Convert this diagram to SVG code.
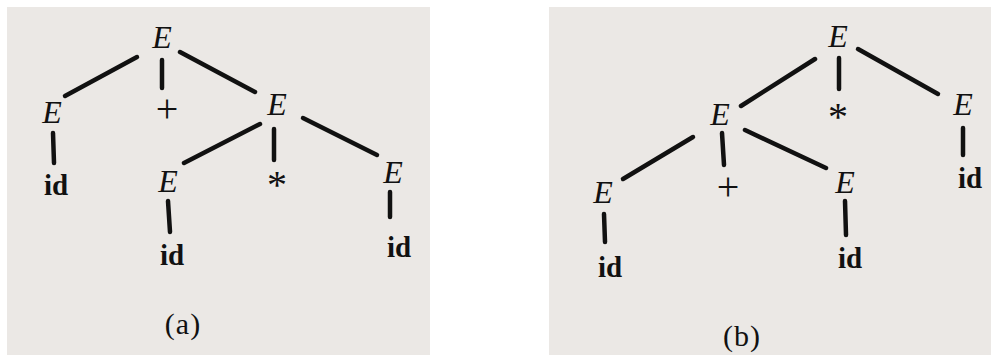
<svg xmlns="http://www.w3.org/2000/svg" width="991" height="356" viewBox="0 0 991 356">
<style>
.bg{fill:#ebe8e5}
.e{font-family:"Liberation Serif",serif;font-style:italic;font-size:32px;fill:#111;text-anchor:middle}
.id{font-family:"Liberation Serif",serif;font-weight:bold;font-size:29px;fill:#111;text-anchor:middle}
.op{font-family:"Liberation Serif",serif;font-size:40px;fill:#111;text-anchor:middle}
.cap{font-family:"Liberation Serif",serif;font-size:30px;fill:#111;text-anchor:middle;letter-spacing:1px}
.c line{stroke:#111;stroke-width:4.5;stroke-linecap:round}
</style>
<rect class="bg" x="7" y="7" width="423" height="348"/>
<rect class="bg" x="549" y="7" width="442" height="348"/>

<g id="connectors" class="c">
  <line x1="137" y1="57" x2="65" y2="96"/>
  <line x1="162" y1="60" x2="162" y2="88"/>
  <line x1="180" y1="52" x2="255" y2="92"/>
  <line x1="53" y1="133" x2="54" y2="163"/>
  <line x1="260" y1="124" x2="184" y2="163"/>
  <line x1="274" y1="129" x2="274" y2="160"/>
  <line x1="303" y1="118" x2="377" y2="155"/>
  <line x1="168" y1="201" x2="170" y2="232"/>
  <line x1="390" y1="192" x2="390" y2="217"/>
  <line x1="815" y1="59" x2="741" y2="106"/>
  <line x1="839" y1="58" x2="839" y2="89"/>
  <line x1="858" y1="49" x2="938" y2="94"/>
  <line x1="963" y1="128" x2="963" y2="155"/>
  <line x1="693" y1="137" x2="623" y2="179"/>
  <line x1="722" y1="133" x2="724" y2="165"/>
  <line x1="745" y1="130" x2="826" y2="168"/>
  <line x1="604" y1="214" x2="605" y2="242"/>
  <line x1="845" y1="201" x2="846" y2="235"/>
</g>

<g id="a-E-root"><text class="e" x="162" y="48">E</text></g>
<g id="a-E-left"><text class="e" x="52" y="123">E</text></g>
<g id="a-plus"><text class="op" x="167" y="122">+</text></g>
<g id="a-E-right"><text class="e" x="277" y="115">E</text></g>
<g id="a-id-left"><text class="id" x="56" y="195">id</text></g>
<g id="a-E-mid"><text class="e" x="168" y="192">E</text></g>
<g id="a-star"><text class="op" x="277" y="198">*</text></g>
<g id="a-E-far"><text class="e" x="393" y="183">E</text></g>
<g id="a-id-mid"><text class="id" x="172" y="265">id</text></g>
<g id="a-id-far"><text class="id" x="399" y="257">id</text></g>
<g id="a-caption"><text class="cap" x="183" y="334">(a)</text></g>

<g id="b-E-root"><text class="e" x="838" y="47">E</text></g>
<g id="b-E-left"><text class="e" x="720" y="125">E</text></g>
<g id="b-star"><text class="op" x="838" y="130">*</text></g>
<g id="b-E-right"><text class="e" x="963" y="115">E</text></g>
<g id="b-id-right"><text class="id" x="970" y="188">id</text></g>
<g id="b-E-leftmost"><text class="e" x="603" y="203">E</text></g>
<g id="b-plus"><text class="op" x="728" y="200">+</text></g>
<g id="b-E-lower"><text class="e" x="845" y="193">E</text></g>
<g id="b-id-leftmost"><text class="id" x="610" y="277">id</text></g>
<g id="b-id-lower"><text class="id" x="850" y="268">id</text></g>
<g id="b-caption"><text class="cap" x="742" y="346">(b)</text></g>
</svg>
